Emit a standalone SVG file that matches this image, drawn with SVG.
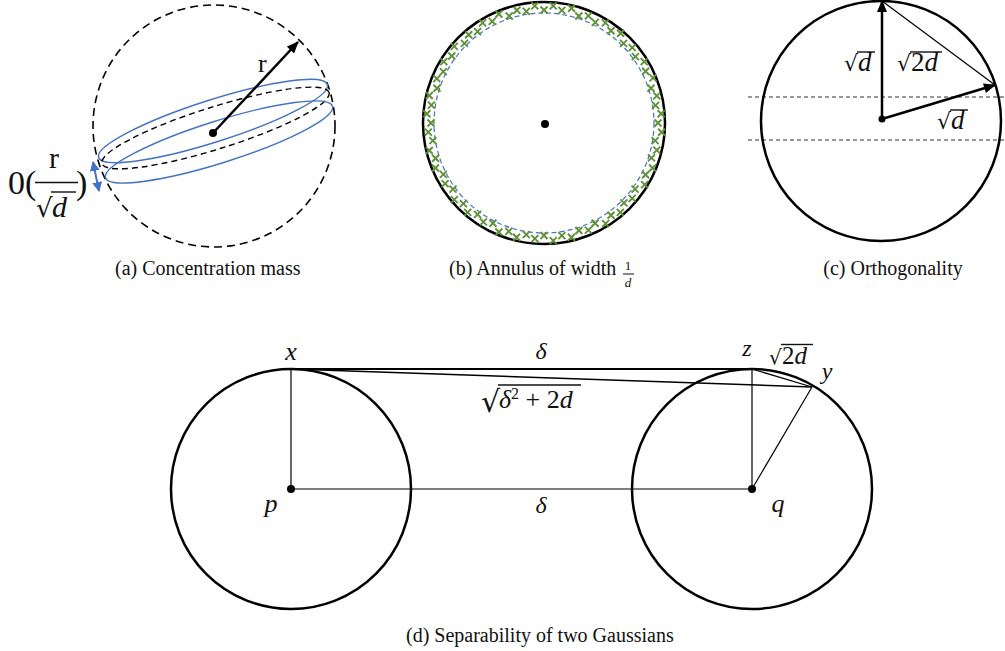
<svg xmlns="http://www.w3.org/2000/svg" xmlns:xlink="http://www.w3.org/1999/xlink" width="1005" height="651" viewBox="0 0 1005 651">
<style>
.cap{font-family:"Liberation Serif","Times New Roman",serif;font-size:20px;fill:#111}
.m{font-family:"Liberation Serif","Times New Roman",serif;fill:#111}
.mi{font-family:"Liberation Serif","Times New Roman",serif;font-style:italic;fill:#111}
.rad{font-family:"DejaVu Serif",serif;fill:#111}
.thick{stroke:#000;stroke-width:2.5;fill:none}
.thin{stroke:#000;stroke-width:1.2;fill:none}
.vin{stroke:#111;stroke-width:1.4}
.blue{stroke:#4472C4;stroke-width:1.4;fill:none}
.xmk{stroke:#5e9138;stroke-width:1.9;fill:none}
</style>
<defs>
<marker id="ah" viewBox="0 0 12 10" refX="11" refY="5" markerWidth="13" markerHeight="10" markerUnits="userSpaceOnUse" orient="auto"><path d="M0,0 L12,5 L0,10 z" fill="#000"/></marker>
<marker id="bh" viewBox="0 0 10 10" refX="9" refY="5" markerWidth="10" markerHeight="10" markerUnits="userSpaceOnUse" orient="auto-start-reverse"><path d="M0,0 L10,5 L0,10 z" fill="#4472C4"/></marker>
<path id="xm" class="xmk" d="M540.5,119.5 l7,7 m0,-7 l-7,7"/>
</defs>

<!-- (a) Concentration mass -->
<g id="panel-a">
<circle cx="214" cy="126" r="121" fill="none" stroke="#000" stroke-width="1.6" stroke-dasharray="8,5"/>
<ellipse cx="213" cy="121" rx="120" ry="21" transform="rotate(-17.7 213 121)" class="blue"/>
<ellipse cx="215.5" cy="128" rx="119" ry="21" transform="rotate(-17.4 215.5 128)" fill="none" stroke="#000" stroke-width="1.4" stroke-dasharray="6,4"/>
<ellipse cx="219" cy="142" rx="119" ry="21" transform="rotate(-17.5 219 142)" class="blue"/>
<line x1="213" y1="133" x2="298" y2="42" class="thick" marker-end="url(#ah)"/>
<circle cx="213" cy="133" r="4" fill="#000"/>
<text x="258" y="72" class="m" font-size="26">r</text>
<line x1="93" y1="162" x2="99" y2="191" stroke="#4472C4" stroke-width="2" marker-start="url(#bh)" marker-end="url(#bh)"/>
<text x="8" y="194" class="m" font-size="34">0(</text>
<text x="49" y="168" class="m" font-size="30">r</text>
<line x1="35" y1="182.5" x2="78" y2="182.5" stroke="#111" stroke-width="1.5"/>
<text x="36" y="217" class="rad" font-size="26">√</text>
<text x="52" y="217" class="mi" font-size="30">d</text>
<line x1="51" y1="192" x2="76" y2="192" class="vin"/>
<text x="76" y="194" class="m" font-size="34">)</text>
<text x="115" y="275" class="cap">(a) Concentration mass</text>
</g>

<!-- (b) Annulus -->
<g id="panel-b">
<circle cx="544" cy="123" r="110" fill="none" stroke="#4472C4" stroke-width="1.2" stroke-dasharray="5,3"/>
<circle cx="544" cy="123" r="121" fill="none" stroke="#000" stroke-width="2.5"/>
<circle cx="545" cy="124" r="4" fill="#000"/>
<g id="marks">
<use xlink:href="#xm" transform="rotate(0 544 123) translate(0 -113) rotate(0 544 123)"/>
<use xlink:href="#xm" transform="rotate(4.5 544 123) translate(0 -117.5) rotate(-4.5 544 123)"/>
<use xlink:href="#xm" transform="rotate(9 544 123) translate(0 -114) rotate(-9 544 123)"/>
<use xlink:href="#xm" transform="rotate(13.5 544 123) translate(0 -118) rotate(-13.5 544 123)"/>
<use xlink:href="#xm" transform="rotate(18 544 123) translate(0 -112.5) rotate(-18 544 123)"/>
<use xlink:href="#xm" transform="rotate(22.5 544 123) translate(0 -116) rotate(-22.5 544 123)"/>
<use xlink:href="#xm" transform="rotate(27 544 123) translate(0 -113) rotate(-27 544 123)"/>
<use xlink:href="#xm" transform="rotate(31.5 544 123) translate(0 -117.5) rotate(-31.5 544 123)"/>
<use xlink:href="#xm" transform="rotate(36 544 123) translate(0 -114) rotate(-36 544 123)"/>
<use xlink:href="#xm" transform="rotate(40.5 544 123) translate(0 -118) rotate(-40.5 544 123)"/>
<use xlink:href="#xm" transform="rotate(45 544 123) translate(0 -112.5) rotate(-45 544 123)"/>
<use xlink:href="#xm" transform="rotate(49.5 544 123) translate(0 -116) rotate(-49.5 544 123)"/>
<use xlink:href="#xm" transform="rotate(54 544 123) translate(0 -113) rotate(-54 544 123)"/>
<use xlink:href="#xm" transform="rotate(58.5 544 123) translate(0 -117.5) rotate(-58.5 544 123)"/>
<use xlink:href="#xm" transform="rotate(63 544 123) translate(0 -114) rotate(-63 544 123)"/>
<use xlink:href="#xm" transform="rotate(67.5 544 123) translate(0 -118) rotate(-67.5 544 123)"/>
<use xlink:href="#xm" transform="rotate(72 544 123) translate(0 -112.5) rotate(-72 544 123)"/>
<use xlink:href="#xm" transform="rotate(76.5 544 123) translate(0 -116) rotate(-76.5 544 123)"/>
<use xlink:href="#xm" transform="rotate(81 544 123) translate(0 -113) rotate(-81 544 123)"/>
<use xlink:href="#xm" transform="rotate(85.5 544 123) translate(0 -117.5) rotate(-85.5 544 123)"/>
<use xlink:href="#xm" transform="rotate(90 544 123) translate(0 -114) rotate(-90 544 123)"/>
<use xlink:href="#xm" transform="rotate(94.5 544 123) translate(0 -118) rotate(-94.5 544 123)"/>
<use xlink:href="#xm" transform="rotate(99 544 123) translate(0 -112.5) rotate(-99 544 123)"/>
<use xlink:href="#xm" transform="rotate(103.5 544 123) translate(0 -116) rotate(-103.5 544 123)"/>
<use xlink:href="#xm" transform="rotate(108 544 123) translate(0 -113) rotate(-108 544 123)"/>
<use xlink:href="#xm" transform="rotate(112.5 544 123) translate(0 -117.5) rotate(-112.5 544 123)"/>
<use xlink:href="#xm" transform="rotate(117 544 123) translate(0 -114) rotate(-117 544 123)"/>
<use xlink:href="#xm" transform="rotate(121.5 544 123) translate(0 -118) rotate(-121.5 544 123)"/>
<use xlink:href="#xm" transform="rotate(126 544 123) translate(0 -112.5) rotate(-126 544 123)"/>
<use xlink:href="#xm" transform="rotate(130.5 544 123) translate(0 -116) rotate(-130.5 544 123)"/>
<use xlink:href="#xm" transform="rotate(135 544 123) translate(0 -113) rotate(-135 544 123)"/>
<use xlink:href="#xm" transform="rotate(139.5 544 123) translate(0 -117.5) rotate(-139.5 544 123)"/>
<use xlink:href="#xm" transform="rotate(144 544 123) translate(0 -114) rotate(-144 544 123)"/>
<use xlink:href="#xm" transform="rotate(148.5 544 123) translate(0 -118) rotate(-148.5 544 123)"/>
<use xlink:href="#xm" transform="rotate(153 544 123) translate(0 -112.5) rotate(-153 544 123)"/>
<use xlink:href="#xm" transform="rotate(157.5 544 123) translate(0 -116) rotate(-157.5 544 123)"/>
<use xlink:href="#xm" transform="rotate(162 544 123) translate(0 -113) rotate(-162 544 123)"/>
<use xlink:href="#xm" transform="rotate(166.5 544 123) translate(0 -117.5) rotate(-166.5 544 123)"/>
<use xlink:href="#xm" transform="rotate(171 544 123) translate(0 -114) rotate(-171 544 123)"/>
<use xlink:href="#xm" transform="rotate(175.5 544 123) translate(0 -118) rotate(-175.5 544 123)"/>
<use xlink:href="#xm" transform="rotate(180 544 123) translate(0 -112.5) rotate(-180 544 123)"/>
<use xlink:href="#xm" transform="rotate(184.5 544 123) translate(0 -116) rotate(-184.5 544 123)"/>
<use xlink:href="#xm" transform="rotate(189 544 123) translate(0 -113) rotate(-189 544 123)"/>
<use xlink:href="#xm" transform="rotate(193.5 544 123) translate(0 -117.5) rotate(-193.5 544 123)"/>
<use xlink:href="#xm" transform="rotate(198 544 123) translate(0 -114) rotate(-198 544 123)"/>
<use xlink:href="#xm" transform="rotate(202.5 544 123) translate(0 -118) rotate(-202.5 544 123)"/>
<use xlink:href="#xm" transform="rotate(207 544 123) translate(0 -112.5) rotate(-207 544 123)"/>
<use xlink:href="#xm" transform="rotate(211.5 544 123) translate(0 -116) rotate(-211.5 544 123)"/>
<use xlink:href="#xm" transform="rotate(216 544 123) translate(0 -113) rotate(-216 544 123)"/>
<use xlink:href="#xm" transform="rotate(220.5 544 123) translate(0 -117.5) rotate(-220.5 544 123)"/>
<use xlink:href="#xm" transform="rotate(225 544 123) translate(0 -114) rotate(-225 544 123)"/>
<use xlink:href="#xm" transform="rotate(229.5 544 123) translate(0 -118) rotate(-229.5 544 123)"/>
<use xlink:href="#xm" transform="rotate(234 544 123) translate(0 -112.5) rotate(-234 544 123)"/>
<use xlink:href="#xm" transform="rotate(238.5 544 123) translate(0 -116) rotate(-238.5 544 123)"/>
<use xlink:href="#xm" transform="rotate(243 544 123) translate(0 -113) rotate(-243 544 123)"/>
<use xlink:href="#xm" transform="rotate(247.5 544 123) translate(0 -117.5) rotate(-247.5 544 123)"/>
<use xlink:href="#xm" transform="rotate(252 544 123) translate(0 -114) rotate(-252 544 123)"/>
<use xlink:href="#xm" transform="rotate(256.5 544 123) translate(0 -118) rotate(-256.5 544 123)"/>
<use xlink:href="#xm" transform="rotate(261 544 123) translate(0 -112.5) rotate(-261 544 123)"/>
<use xlink:href="#xm" transform="rotate(265.5 544 123) translate(0 -116) rotate(-265.5 544 123)"/>
<use xlink:href="#xm" transform="rotate(270 544 123) translate(0 -113) rotate(-270 544 123)"/>
<use xlink:href="#xm" transform="rotate(274.5 544 123) translate(0 -117.5) rotate(-274.5 544 123)"/>
<use xlink:href="#xm" transform="rotate(279 544 123) translate(0 -114) rotate(-279 544 123)"/>
<use xlink:href="#xm" transform="rotate(283.5 544 123) translate(0 -118) rotate(-283.5 544 123)"/>
<use xlink:href="#xm" transform="rotate(288 544 123) translate(0 -112.5) rotate(-288 544 123)"/>
<use xlink:href="#xm" transform="rotate(292.5 544 123) translate(0 -116) rotate(-292.5 544 123)"/>
<use xlink:href="#xm" transform="rotate(297 544 123) translate(0 -113) rotate(-297 544 123)"/>
<use xlink:href="#xm" transform="rotate(301.5 544 123) translate(0 -117.5) rotate(-301.5 544 123)"/>
<use xlink:href="#xm" transform="rotate(306 544 123) translate(0 -114) rotate(-306 544 123)"/>
<use xlink:href="#xm" transform="rotate(310.5 544 123) translate(0 -118) rotate(-310.5 544 123)"/>
<use xlink:href="#xm" transform="rotate(315 544 123) translate(0 -112.5) rotate(-315 544 123)"/>
<use xlink:href="#xm" transform="rotate(319.5 544 123) translate(0 -116) rotate(-319.5 544 123)"/>
<use xlink:href="#xm" transform="rotate(324 544 123) translate(0 -113) rotate(-324 544 123)"/>
<use xlink:href="#xm" transform="rotate(328.5 544 123) translate(0 -117.5) rotate(-328.5 544 123)"/>
<use xlink:href="#xm" transform="rotate(333 544 123) translate(0 -114) rotate(-333 544 123)"/>
<use xlink:href="#xm" transform="rotate(337.5 544 123) translate(0 -118) rotate(-337.5 544 123)"/>
<use xlink:href="#xm" transform="rotate(342 544 123) translate(0 -112.5) rotate(-342 544 123)"/>
<use xlink:href="#xm" transform="rotate(346.5 544 123) translate(0 -116) rotate(-346.5 544 123)"/>
<use xlink:href="#xm" transform="rotate(351 544 123) translate(0 -113) rotate(-351 544 123)"/>
<use xlink:href="#xm" transform="rotate(355.5 544 123) translate(0 -117.5) rotate(-355.5 544 123)"/>
</g>
<text x="449" y="275" class="cap">(b) Annulus of width</text>
<text x="628" y="270" class="m" font-size="13" text-anchor="middle">1</text>
<line x1="623" y1="274" x2="634" y2="274" stroke="#111" stroke-width="1"/>
<text x="628" y="287" class="mi" font-size="13" text-anchor="middle">d</text>
</g>

<!-- (c) Orthogonality -->
<g id="panel-c">
<line x1="748" y1="97" x2="1005" y2="97" stroke="#333" stroke-width="1.1" stroke-dasharray="4,3"/>
<line x1="748" y1="140" x2="1005" y2="140" stroke="#333" stroke-width="1.1" stroke-dasharray="4,3"/>
<circle cx="881" cy="121" r="120" fill="none" stroke="#000" stroke-width="2.5"/>
<line x1="882" y1="1" x2="995" y2="85" class="thin"/>
<line x1="882" y1="119" x2="882" y2="1" class="thick" marker-end="url(#ah)"/>
<line x1="882" y1="119" x2="995" y2="85" class="thick" marker-end="url(#ah)"/>
<circle cx="882" cy="119" r="3.5" fill="#000"/>
<text x="844" y="71" class="rad" font-size="22">√</text>
<text x="858" y="71" class="mi" font-size="27">d</text>
<line x1="857" y1="52" x2="875" y2="52" class="vin"/>
<text x="897" y="71" class="rad" font-size="22">√</text>
<text x="911" y="71" class="m" font-size="27">2<tspan class="mi">d</tspan></text>
<line x1="910" y1="52" x2="942" y2="52" class="vin"/>
<text x="937" y="129" class="rad" font-size="22">√</text>
<text x="951" y="129" class="mi" font-size="27">d</text>
<line x1="950" y1="110" x2="968" y2="110" class="vin"/>
<text x="893" y="275" class="cap" text-anchor="middle">(c) Orthogonality</text>
</g>

<!-- (d) Separability -->
<g id="panel-d">
<circle id="circle-p" cx="291" cy="489" r="120" fill="none" stroke="#000" stroke-width="2.5"/>
<circle id="circle-q" cx="752" cy="489" r="120" fill="none" stroke="#000" stroke-width="2.5"/>
<g id="connectors">
<line x1="291" y1="369" x2="752" y2="369" stroke="#000" stroke-width="1.8"/>
<line x1="291" y1="369" x2="812" y2="387" stroke="#000" stroke-width="1.5"/>
<line x1="752" y1="369" x2="812" y2="387" stroke="#000" stroke-width="1.3"/>
<line x1="291" y1="369" x2="291" y2="489" class="thin"/>
<line x1="752" y1="369" x2="752" y2="489" class="thin"/>
<line x1="291" y1="489" x2="752" y2="489" class="thin"/>
<line x1="752" y1="489" x2="812" y2="387" class="thin"/>
</g>
<circle cx="291" cy="489" r="4" fill="#000"/>
<circle cx="752" cy="489" r="4" fill="#000"/>
<text x="291" y="360" class="mi" font-size="26" text-anchor="middle">x</text>
<text x="747" y="356" class="mi" font-size="24" text-anchor="middle">z</text>
<text x="827" y="379" class="mi" font-size="24" text-anchor="middle">y</text>
<text x="541" y="359" class="mi" font-size="24" text-anchor="middle">δ</text>
<text x="541" y="513" class="mi" font-size="24" text-anchor="middle">δ</text>
<text x="271" y="512" class="mi" font-size="26" text-anchor="middle">p</text>
<text x="778" y="512" class="mi" font-size="26" text-anchor="middle">q</text>
<text x="769" y="364" class="rad" font-size="20">√</text>
<text x="782" y="364" class="m" font-size="25">2<tspan class="mi">d</tspan></text>
<line x1="781" y1="344.5" x2="813" y2="344.5" class="vin"/>
<text x="481" y="412" class="rad" font-size="30">√</text>
<text x="499" y="408" class="m" font-size="26"><tspan class="mi">δ</tspan><tspan font-size="16" dy="-9">2</tspan><tspan dy="9"> + 2</tspan><tspan class="mi">d</tspan></text>
<line x1="498" y1="385" x2="581" y2="385" class="vin"/>
<text x="406" y="642" class="cap">(d) Separability of two Gaussians</text>
</g>
</svg>
